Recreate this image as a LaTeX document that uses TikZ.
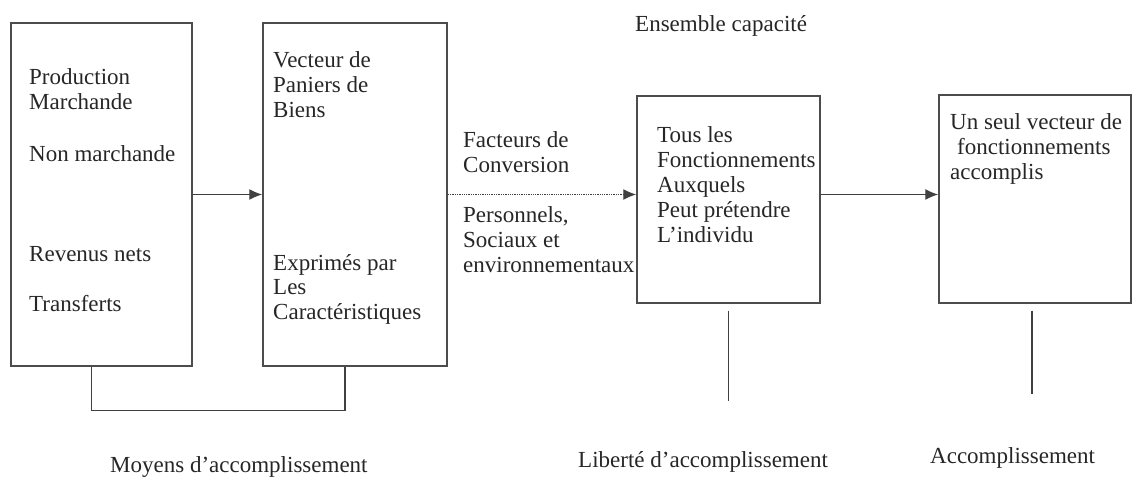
\documentclass[tikz,border=0pt]{standalone}
\usepackage{fontspec}
\setmainfont{Liberation Serif}
\usetikzlibrary{arrows.meta}

\begin{document}
\begin{tikzpicture}[x=1pt, y=-1pt, font=\fontsize{23}{25}\selectfont,
    boite/.style={draw=black!70, line width=1.5pt, inner sep=0pt},
    texte/.style={anchor=base west, align=left, inner sep=0pt, text=black!85},
    lien/.style={draw=black!75, line width=1.3pt},
    >={Latex[length=13pt,width=11pt]}]
    \useasboundingbox (0,0) rectangle (1133,478);

    \node[boite, minimum width=181pt, minimum height=343pt] (b1) at (101.5,194.5) {};
    \node[boite, minimum width=184pt, minimum height=343pt] (b2) at (355,194.5) {};
    \node[boite, minimum width=183pt, minimum height=207pt] (b3) at (728.5,199.5) {};
    \node[boite, minimum width=192pt, minimum height=208pt] (b4) at (1035,199) {};

    \node[texte] (prod) at (29,162) {Production\\Marchande\\[27pt]Non marchande};
    \node[texte] (rev) at (29,312) {Revenus nets\\[25pt]Transferts};
    \node[texte] (vect) at (273,118) {Vecteur de\\Paniers de\\Biens};
    \node[texte] (expr) at (273,320) {Exprimés par\\Les\\Caractéristiques};
    \node[texte] (ens) at (635,32) {Ensemble capacité};
    \node[texte] (fact) at (463,173) {Facteurs de\\Conversion};
    \node[texte] (pers) at (463,273) {Personnels,\\Sociaux et\\environnementaux};
    \node[texte] (tous) at (657,243) {Tous les\\Fonctionnements\\Auxquels\\Peut prétendre\\L’individu};
    \node[texte] (seul) at (950,180) {Un seul vecteur de\\\hspace{7pt}fonctionnements\\accomplis};
    \node[texte] (moy) at (110,472) {Moyens d’accomplissement};
    \node[texte] (lib) at (578,467) {Liberté d’accomplissement};
    \node[texte] (acc) at (930,463) {Accomplissement};

    \draw[lien, ->] (b1) -- (b2);
    \draw[lien, ->, densely dotted] (b2.east) -- (b2.east -| b3.west);
    \draw[lien, ->] ([yshift=5pt]b3.east) -- ([yshift=5pt]b3.east -| b4.west);
    \draw[lien] ([xshift=-10pt]b1.south) -- ++(0,44) -| ([xshift=-10pt]b2.south);
    \draw[lien] (b3.south) ++(0,7) -- ++(0,90);
    \draw[lien] ([xshift=-3pt]b4.south) ++(0,7) -- ++(0,83);
\end{tikzpicture}
\end{document}
